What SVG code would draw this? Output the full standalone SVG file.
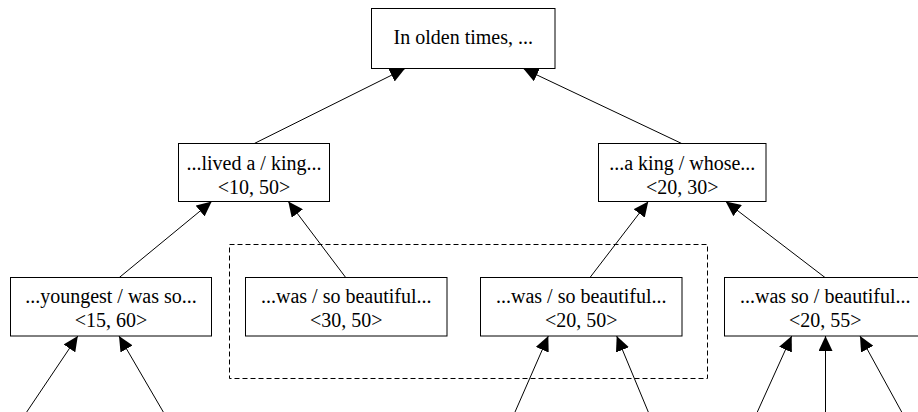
<svg xmlns="http://www.w3.org/2000/svg" width="918" height="412" viewBox="0 0 918 412">
  <defs>
    <marker id="arrow" markerUnits="userSpaceOnUse" markerWidth="15" markerHeight="14" viewBox="0 0 15 14" refX="15" refY="7" orient="auto">
      <path d="M0,0 L15,7 L0,14 Z" fill="#000"/>
    </marker>
    <style>
      .node rect { fill: #fff; stroke: #000; stroke-width: 1; }
      .node text { font-family: "Liberation Serif", "Times New Roman", serif; font-size: 20px; fill: #000; text-anchor: middle; }
      .edges line { stroke: #000; stroke-width: 1; marker-end: url(#arrow); }
      .cluster { fill: none; stroke: #000; stroke-width: 1; stroke-dasharray: 5,3; }
    </style>
  </defs>
  <rect width="918" height="412" fill="#fff"/>

  <rect class="cluster" x="229.5" y="244.5" width="478" height="134"/>

  <g id="edges" class="edges">
    <line x1="254.3" y1="143.5" x2="405" y2="68.5"/>
    <line x1="681.7" y1="143.5" x2="523.3" y2="68.5"/>
    <line x1="119.3" y1="277.5" x2="211.7" y2="201.5"/>
    <line x1="345.7" y1="277.5" x2="288.3" y2="201.5"/>
    <line x1="590" y1="277.5" x2="648.3" y2="201.5"/>
    <line x1="825" y1="277.5" x2="725.7" y2="201.5"/>
    <line x1="26.7" y1="412" x2="77.8" y2="336"/>
    <line x1="163.3" y1="412" x2="119" y2="336"/>
    <line x1="515" y1="412" x2="548.3" y2="336"/>
    <line x1="648.3" y1="412" x2="616.7" y2="336"/>
    <line x1="757.3" y1="412" x2="791.7" y2="336"/>
    <line x1="825.5" y1="412" x2="825.5" y2="336"/>
    <line x1="901.7" y1="412" x2="860" y2="336"/>
  </g>

  <g id="n_root" class="node">
    <rect x="371.5" y="8.5" width="183.5" height="60"/>
    <text x="463.25" y="44">In olden times, ...</text>
  </g>
  <g id="n_lived" class="node">
    <rect x="178.5" y="143.5" width="151" height="58"/>
    <text x="254" y="169.5">...lived a / king...</text>
    <text x="254" y="193.5">&lt;10, 50&gt;</text>
  </g>
  <g id="n_aking" class="node">
    <rect x="598.5" y="143.5" width="167.5" height="58"/>
    <text x="682.25" y="169.5">...a king / whose...</text>
    <text x="682.25" y="193.5">&lt;20, 30&gt;</text>
  </g>
  <g id="n_youngest" class="node">
    <rect x="10.5" y="277.5" width="201" height="58.5"/>
    <text x="111" y="303">...youngest / was so...</text>
    <text x="111" y="327">&lt;15, 60&gt;</text>
  </g>
  <g id="n_was1" class="node">
    <rect x="245.5" y="277.5" width="201.5" height="58.5"/>
    <text x="346.25" y="303">...was / so beautiful...</text>
    <text x="346.25" y="327">&lt;30, 50&gt;</text>
  </g>
  <g id="n_was2" class="node">
    <rect x="480.5" y="277.5" width="201.5" height="58.5"/>
    <text x="581.25" y="303">...was / so beautiful...</text>
    <text x="581.25" y="327">&lt;20, 50&gt;</text>
  </g>
  <g id="n_wasso" class="node">
    <rect x="724.5" y="277.5" width="201.5" height="58.5"/>
    <text x="825.25" y="303">...was so / beautiful...</text>
    <text x="825.25" y="327">&lt;20, 55&gt;</text>
  </g>
</svg>
